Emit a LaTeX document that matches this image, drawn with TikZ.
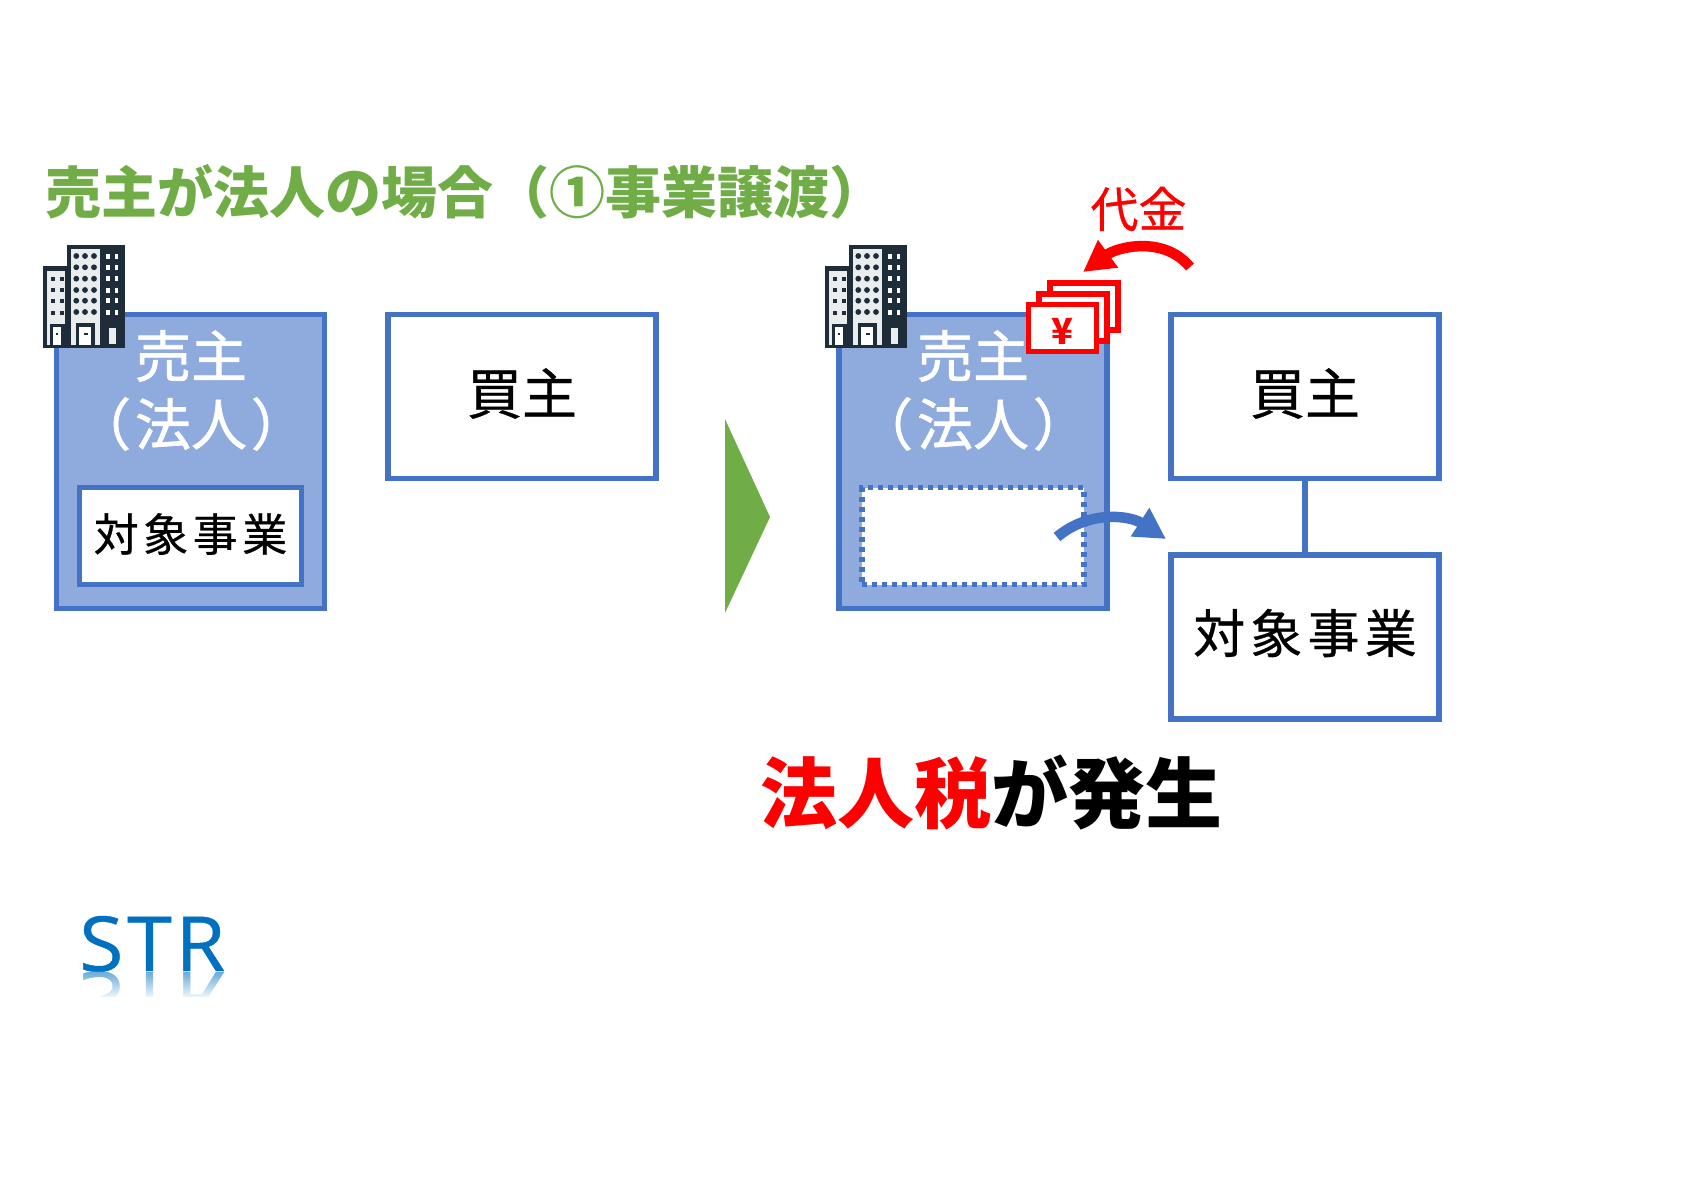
\documentclass[tikz,border=0pt]{standalone}
\usepackage{fontspec}
\setmainfont{Noto Sans CJK JP}
\newfontfamily\latinfont[LetterSpace=5,FakeStretch=1.06,FakeBold=0.6]{Open Sans}
\newfontfamily\medfont[FakeBold=0.6]{Noto Sans CJK JP}
\newfontfamily\propfont[RawFeature=+palt,FakeBold=1.2]{Noto Sans CJK JP}
\newfontfamily\wideprop[LetterSpace=10,FakeBold=0.6]{Noto Sans CJK JP}
\usetikzlibrary{arrows.meta,fadings}
\definecolor{boxblue}{HTML}{4472C4}
\definecolor{fillblue}{HTML}{8FAADC}
\definecolor{leafgreen}{HTML}{70AD47}
\definecolor{logoblue}{HTML}{0070C0}
\definecolor{towerdark}{HTML}{1F2D3A}
\definecolor{towerlight}{HTML}{E9EDEE}
\begin{document}
\begin{tikzpicture}[x=1pt,y=-1pt,
    box/.style = {draw=boxblue, line width=5.5pt, inner sep=0pt, minimum width=268pt, fill=white},
    seller/.style = {box, fill=fillblue, minimum height=294pt},
    buyer/.style = {box, minimum height=164pt},
    inbox/.style = {box, minimum width=222pt, minimum height=97pt},
    bill/.style = {draw=red, fill=white, line width=5.5pt, inner sep=0pt, minimum width=68pt, minimum height=47pt},
    pale/.style = {text=white, inner sep=0pt, font=\propfont\fontsize{56}{56}\selectfont},
    word/.style = {text=black, inner sep=0pt, font=\medfont\fontsize{55}{55}\selectfont},
    flow/.style = {line width=10.5pt, -{Triangle[length=31pt,width=32pt]}},
    pics/tower/.style = {code={
        \fill[towerdark] (0,21) rectangle (25,103);
        \fill[towerdark] (24,0) rectangle (82,103);
        \fill[towerlight] (4,26) rectangle (22,100);
        \fill[towerlight] (28,4) rectangle (57,100);
        \foreach \r in {11,22.3,33.7,45,55.7,67} {
            \foreach \c in {33.3,42,51} \fill[towerdark] (\c,\r) circle (2.9);
            \fill[white] (63,\r-2.5) rectangle (67,\r+2.5);
            \fill[white] (71.5,\r-2.5) rectangle (75,\r+2.5);
        }
        \foreach \r in {33.7,45,56,68} {
            \fill[towerdark] (8,\r-2.2) rectangle (12,\r+2.2);
            \fill[towerdark] (16.5,\r-2.2) rectangle (20.5,\r+2.2);
        }
        \fill[towerdark] (6.7,79) rectangle (21.7,100);
        \fill[white] (10,82) rectangle (18,100);
        \fill[towerdark] (13,88) rectangle (15,90);
        \fill[towerdark] (32.7,78) rectangle (51.7,100);
        \fill[white] (36,81.5) rectangle (48,100);
        \fill[towerdark] (41,88) rectangle (45,90);
        \fill[towerlight] (66,83) rectangle (72.5,99);
    }}]

    \useasboundingbox (0,0) rectangle (1684,1191);
    \fill[white] (0,0) rectangle (1684,1191);

    \node[anchor=west, inner sep=0pt, text=leafgreen, font=\bfseries\fontsize{56}{56}\selectfont] (title) at (45,192) {売主が法人の場合（①事業譲渡）};

    % before
    \node[seller] (seller1) at (190.5,461.5) {};
    \node[pale] (name1) at (191,356) {売主};
    \node[pale] (kind1) at (191,424) {（\kern6pt 法人\kern6pt ）};
    \node[inbox] (deal1) at (190.5,536) {};
    \node[word, font=\wideprop\fontsize{45}{45}\selectfont] at ([yshift=2pt]deal1.center) {対象事業};
    \node[buyer] (buyer1) at (522,396.5) {};
    \node[word] at ([yshift=3pt]buyer1.center) {買主};
    \pic at (43,245) {tower};

    \fill[leafgreen] (725,419) -- (770,517) -- (725,613) -- cycle;

    % after
    \node[seller] (seller2) at (973,461.5) {};
    \node[pale] (name2) at (973,356) {売主};
    \node[pale] (kind2) at (973,424) {（\kern6pt 法人\kern6pt ）};
    \node[inbox, dash pattern=on 5pt off 5pt] (deal2) at (973,536) {};
    \node[buyer] (buyer2) at (1305,396.5) {};
    \node[word] at ([yshift=3pt]buyer2.center) {買主};
    \node[buyer] (target) [below of=buyer2, node distance=240.5pt] {};
    \node[word, font=\wideprop\fontsize{52}{52}\selectfont] at ([yshift=4pt]target.center) {対象事業};
    \draw[draw=boxblue, line width=5.5pt] (buyer2) -- (target);
    \pic at (825,245) {tower};

    \node[bill] (bill3) at (1084,306.5) {};
    \node[bill] (bill2) at (1073,317.5) {};
    \node[bill] (bill1) at (1062.5,328) {};
    \node[inner sep=0pt, text=red, font=\bfseries\fontsize{36}{36}\selectfont] (yen) at (1062.5,331) {¥};

    \coordinate (payfrom) at (1190,267);
    \coordinate (payto) at (1083,272);
    \draw[flow, draw=red] (payfrom) to [out=130,in=36,looseness=1] (payto);
    \node[inner sep=0pt, text=red, font=\medfont\fontsize{48}{48}\selectfont] (pay) at (1138.5,209) {代金};

    \coordinate (movefrom) at (1057,537);
    \coordinate (moveto) at (1166,539);
    \draw[flow, draw=boxblue] (movefrom) to [out=40,in=147,looseness=1] (moveto);

    \node[anchor=center, inner sep=0pt, font=\bfseries\fontsize{77}{77}\selectfont] (tax) at (991,793) {\textcolor{red}{法人税}が発生};

    % logo
    \node[anchor=base west, inner sep=0pt, text=logoblue, font=\latinfont\fontsize{76}{76}\selectfont] (logo) at (79,971) {STR};
    \begin{scope}
        \clip (70,972) rectangle (240,996);
        \node[anchor=base west, inner sep=0pt, text=logoblue!60, yscale=-1, font=\latinfont\fontsize{76}{76}\selectfont] at (79,972) {STR};
        \fill[white, path fading=north] (70,971) rectangle (240,1000);
    \end{scope}
\end{tikzpicture}
\end{document}
